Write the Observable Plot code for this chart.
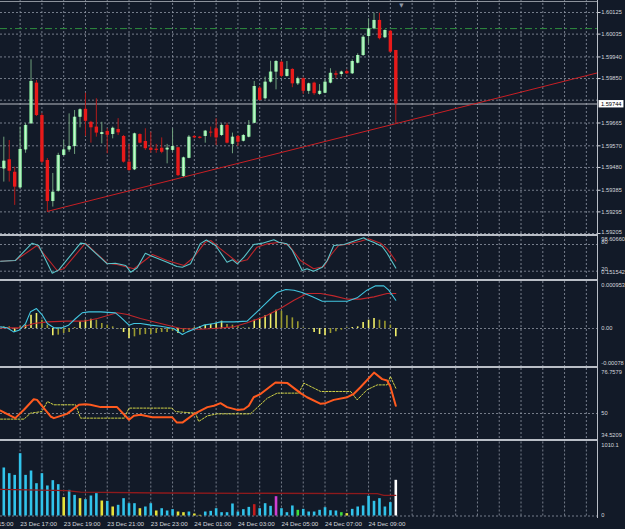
<!DOCTYPE html>
<html>
<head>
<meta charset="utf-8">
<script src="https://cdn.jsdelivr.net/npm/d3@7"></script>
<script src="https://cdn.jsdelivr.net/npm/@observablehq/plot@0.6"></script>
<style>
  html, body { margin:0; padding:0; background:#121a28; }
  #chart { position:relative; width:625px; height:529px; background:#121a28; overflow:hidden; }
  #chart svg { position:absolute; left:0; display:block; }
  .hl { position:absolute; left:0; width:597px; height:2px; background:#b9bec6; }
  .vl { position:absolute; top:0; left:597px; width:1px; height:518px; background:#b9bec6; }
  .tl { position:absolute; left:0; top:1px; width:597px; height:1px; background:#8d939c; }
</style>
</head>
<body>
<div id="chart"></div>
<script>
// ---------- DATA (M15 candles, 23 Dec 16:15 .. 24 Dec 10:15) ----------
const open = [1.59474,1.59512,1.59460,1.59395,1.59553,1.59662,1.59831,1.59696,1.59509,1.59338,
  1.59381,1.59530,1.59553,1.59567,1.59689,1.59722,1.59668,1.59648,1.59617,1.59630,
  1.59617,1.59638,1.59609,1.59502,1.59470,1.59617,1.59588,1.59560,1.59556,1.59560,
  1.59553,1.59551,1.59562,1.59442,1.59518,1.59609,1.59606,1.59609,1.59627,1.59641,
  1.59613,1.59655,1.59576,1.59609,1.59589,1.59606,1.59664,1.59810,1.59766,1.59835,
  1.59877,1.59918,1.59859,1.59888,1.59828,1.59849,1.59797,1.59831,1.59784,1.59789,
  1.59831,1.59870,1.59867,1.59879,1.59870,1.59914,1.59946,1.60025,1.60057,1.60092,
  1.60020,1.60047,1.59967];
const high = [1.59606,1.59592,1.59481,1.59648,1.59663,1.59928,1.59842,1.59705,1.59517,1.59455,
  1.59539,1.59592,1.59703,1.59717,1.59724,1.59789,1.59672,1.59766,1.59668,1.59641,
  1.59648,1.59683,1.59613,1.59576,1.59623,1.59620,1.59641,1.59627,1.59576,1.59603,
  1.59576,1.59641,1.59564,1.59523,1.59613,1.59613,1.59609,1.59634,1.59648,1.59683,
  1.59662,1.59664,1.59623,1.59613,1.59617,1.59675,1.59838,1.59817,1.59856,1.59922,
  1.59925,1.59922,1.59921,1.59891,1.59856,1.59853,1.59831,1.59835,1.59825,1.59845,
  1.59891,1.59881,1.59881,1.59886,1.59928,1.59953,1.60029,1.60099,1.60122,1.60122,
  1.60053,1.60050,1.59967];
const low = [1.59419,1.59419,1.59322,1.59391,1.59539,1.59659,1.59692,1.59496,1.59294,1.59315,
  1.59377,1.59526,1.59543,1.59534,1.59645,1.59609,1.59581,1.59606,1.59578,1.59537,
  1.59599,1.59613,1.59498,1.59464,1.59467,1.59578,1.59551,1.59539,1.59539,1.59537,
  1.59495,1.59543,1.59442,1.59439,1.59516,1.59599,1.59598,1.59581,1.59606,1.59571,
  1.59609,1.59578,1.59537,1.59567,1.59586,1.59603,1.59662,1.59756,1.59762,1.59831,
  1.59803,1.59853,1.59856,1.59812,1.59821,1.59784,1.59784,1.59780,1.59780,1.59787,
  1.59828,1.59849,1.59856,1.59867,1.59867,1.59911,1.59942,1.59995,1.60053,1.60011,
  1.60016,1.59956,1.59662];
const close = [1.59506,1.59464,1.59398,1.59555,1.59655,1.59838,1.59696,1.59502,1.59338,1.59377,
  1.59530,1.59553,1.59567,1.59689,1.59720,1.59672,1.59645,1.59623,1.59625,1.59614,
  1.59643,1.59624,1.59502,1.59467,1.59620,1.59581,1.59558,1.59551,1.59551,1.59543,
  1.59560,1.59567,1.59446,1.59520,1.59606,1.59603,1.59601,1.59631,1.59623,1.59603,
  1.59655,1.59581,1.59606,1.59585,1.59613,1.59655,1.59817,1.59759,1.59835,1.59877,
  1.59921,1.59859,1.59888,1.59828,1.59849,1.59797,1.59828,1.59787,1.59797,1.59835,
  1.59872,1.59864,1.59877,1.59870,1.59921,1.59946,1.60022,1.60057,1.60092,1.60016,
  1.60050,1.59960,1.59744];

const priceTicks = [1.60125,1.60035,1.59940,1.59850,1.59665,1.59570,1.59480,1.59385,1.59295,1.59205];
const priceHiddenGrid = [1.59760];
const alertLevel = 1.60058;
const trendBar = [8, 109.1];
const trendPrice = [1.59297, 1.59874];

// Stochastic
const stochKBar = [-0.6,2.1,5.2,6.4,8.9,10.1,14.1,15,19,20.5,22.4,23.3,24.5,26,26.9,30,31.8,32.8,34.3,36.1,
  37.2,38.9,41,42,42.9,44.1,45.9,47.5,49.6,50.5,52,53,54.8,55.7,56.9,58.5,59.4,60.6,62.5,63.7,66.1,66.7,67.9,69.5,70.4,72];
const stochKVal = [42.5,44,82.9,77.8,15.5,23,83,81.5,36.6,38,32.8,17.8,27.6,60.4,55.3,40.2,30.6,29,36.6,82,
  90,77.8,40.2,45.6,36.6,51.5,80,83,90.5,85.2,81.5,66.5,21.6,25.4,20,29,44,77.8,80,85.2,95,90.5,85.2,75.5,60.4,27];
const stochDBar = [-0.6,2.1,6.1,9.8,11,15,19,20.8,23.9,27.3,30,33.1,34.9,37,38,39.8,42.9,44.7,46.5,48.4,
  50.8,52.4,54.5,56.9,58.8,60,61.5,63.4,65.5,67,69.2,70.4,72];
const stochDVal = [42.5,44,77.8,21.6,25.4,83,38,35,25.4,57.5,44,32.8,51.5,85.2,89,70.3,40.2,45.6,74,81.5,
  85.2,77.8,44,25.4,30.6,55.3,77.8,81.5,87.4,92.8,83,70.3,43];
const stochLevels = [80, 20];
const stochMax = 98.6066, stochMin = 0.151542;

// MACD (values in units of 1e-5)
const macdHist = [3.4,3.4,-6.8,3.4,6.8,27,30.4,16.9,6.8,-14.9,-13.5,-10.1,-8.1,2,13.5,16.9,18.9,16.9,10.1,6.8,
  3.4,-1,-8.1,-20.3,-16.9,-13.5,-12.2,-12.2,-10.1,-8.1,-8.1,-5.4,-10.1,-8.1,-3.4,2,3.4,6.8,8.1,10.1,
  14.9,8.1,6.8,3.4,1.4,1.4,16.9,20.3,25.7,30.4,37.2,35.1,25.7,21.6,13.5,1.4,-1,-8.1,-12.2,-14.9,
  -10.1,-6.8,-3.4,1.4,2,3.4,12.2,16.9,20.3,16.9,14.9,6.8,-16.9];
const macdBar = [-0.6,0.6,1.8,2.8,4,4.9,6,7,8,9.2,10.7,11.9,13.2,14.4,15.6,17.8,20.5,21.4,23,23.9,
  25.1,27,28.8,31.2,32.8,33.7,34.9,36.7,38.6,39.8,42.3,44.7,46.5,48.4,50.2,51.8,53.3,54.8,56.7,58.5,
  60.6,63.1,64.9,66.7,68.3,69.8,70.7,72];
const macdVal = [3.4,1.4,-6.8,-3.4,10.1,33.8,40.5,28.4,10.1,1.4,1.4,6.8,20.3,31.8,33.8,33.8,31.8,23.7,6.8,10.1,
  10.1,6.8,4.7,0,-12.2,-6.8,-1.4,6.8,10.1,13.5,13.5,14.9,33.8,54.1,73,79.1,77.7,73,64.2,55.4,
  55.4,55.4,62.2,77.7,86.5,86.5,77.7,57.4];
const signalBar = [-0.6,3.1,5.5,8,11.6,14.7,17.2,20.8,22.7,25.1,28.8,32.5,36.1,38.6,42.3,44.7,47.8,50.8,53.3,55.7,
  58.2,60.6,63.1,65.5,68,70.4,72];
const signalVal = [1.4,1.4,10.1,13.5,14.9,14.9,20.3,31.8,28.4,20.3,10.1,0,-1.4,0,3.4,11.5,23.7,40.5,57.4,71,
  71,66.2,59.5,59.5,64.2,71,71];
const macdMax = 95.3, macdMin = -78;
const macdAxisText = ["0.000953", "0.00", "-0.00078"];

// RSI-type oscillator
const rsiBar = [-0.6,2.1,3.7,5.5,6.1,8.6,9.2,11.6,13.8,15,15.9,17.8,20.8,23,23.9,25.1,27.3,30.9,31.8,32.8,
  34.9,37.4,38.6,39.8,41,42.9,44.1,45,45.9,47.2,49.9,52.1,54.5,55.7,58.2,59.1,60.6,63.1,64.3,65.5,68,69.5,70.4,71,72];
const rsiVal = [51.8,47.2,52.3,58.7,58.3,48.2,47.2,49.8,55.3,55.7,55.3,53.9,53.9,46.2,48.6,49.2,47.8,47.8,44.5,44.5,
  49.6,53.9,54.7,56.3,53.9,52.2,52.6,54.7,59.9,62,68.9,68.5,62.4,59.9,55.9,56.3,58.3,59.9,62,66,74.9,70.9,70.1,66.4,54.7];
const rsi2Bar = [-0.6,3.7,4.9,7,8,9.2,13.2,14.1,22.1,23,30.9,31.5,35.2,35.8,37.4,39.2,45.3,48.4,50.2,54.2,
  55.1,58.2,63.7,64.9,66.7,68.6,70.4,71,72];
const rsi2Val = [46.6,46.6,50.2,51.2,57.3,55.3,55.3,47.2,47.2,53.3,53.3,51.2,50.2,45.2,48.6,49.8,49.8,59.3,62.4,62.4,
  68.5,63.4,63.4,58.3,64.4,67.4,67.4,72.5,65.4];
const rsiMax = 76.7579, rsiMin = 34.5209, rsiMid = 50;

// Volume
const volume = [651,574,551,845,551,610,438,574,407,479,425,249,348,280,235,221,271,303,203,199,
  122,145,235,167,167,99,122,167,68,99,68,86,54,45,54,27,9,54,63,99,
  45,45,163,54,86,117,154,99,167,131,262,99,45,136,77,90,54,54,77,113,
  72,68,45,32,90,122,136,267,199,235,122,181,484];
const volumeKind = ["c","c","c","c","c","c","c","c","c","c","c","y","c","c","y","c","c","c","y","c",
  "y","c","c","c","c","y","c","c","y","c","c","c","y","y","c","y","y","c","c","c",
  "c","c","c","c","c","c","r","c","c","c","m","c","c","c","g","c","c","c","c","c",
  "c","c","g","y","c","c","c","c","c","c","c","c","w"];
const volMaBar = [-0.6,11.6,14.1,28.8,68.6,69.8,72];
const volMaVal = [362,343,325,312,303,280,280];
const volMax = 1010.1;

// Time axis
const timeLabelBar = [-5,3,11,19,27,35,43,51,59,67];
const timeLabelText = ["23 Dec 15:00","23 Dec 17:00","23 Dec 19:00","23 Dec 21:00","23 Dec 23:00",
  "24 Dec 01:00","24 Dec 03:00","24 Dec 05:00","24 Dec 07:00","24 Dec 09:00"];

// ---------- STYLE ----------
const FONT = "'Liberation Sans', Arial, sans-serif";
const TEXT = "#d4d7dc";
const GRID = "#8f97a4";
const AX_FS = 5.7;
const BULL = "#7fe096", BULL_IN = "#c8f7cf", BULL_WICK = "#6f9f7c";
const BEAR = "#e81a1a", BEAR_WICK = "#b21b1b";
const VOLCOL = {c:"#31c3ea", y:"#e6e23a", r:"#c21d1d", m:"#cf3fd2", g:"#3ede3e", w:"#ffffff"};

const candles = open.map((o, i) => ({i, o, h: high[i], l: low[i], c: close[i], up: close[i] >= o}));
const gridBars = d3.range(3, 108, 4);
const pts = (xs, ys) => xs.map((x, k) => ({x, y: ys[k]}));

function pane(height, y, marks) {
  return Plot.plot({
    width: 625, height, marginLeft: 0, marginRight: 28, marginTop: 0, marginBottom: 0,
    x: {domain: [0, 72], range: [3.3, 395.3], axis: null},
    y: {...y, axis: null},
    style: {background: "transparent", color: TEXT, fontFamily: FONT, fontSize: "6.2px", overflow: "hidden"},
    marks
  });
}
const vgrid = (o = {}) => Plot.ruleX(gridBars, {x: d => d, stroke: GRID, strokeWidth: 0.8, strokeDasharray: "2,2", ...o});
const hdash = (vals) => Plot.ruleY(vals, {y: d => d, stroke: GRID, strokeWidth: 0.8, strokeDasharray: "2,2"});
const label = (v, t, dy) => Plot.text([v], {y: d => d, frameAnchor: "right", textAnchor: "start", dx: 3.8, dy, text: () => t, fill: TEXT, fontSize: AX_FS});

const chart = document.getElementById("chart");
const BID = close[close.length - 1];
const BID_TEXT = BID.toFixed(5);

// ---------- PRICE PANE ----------
const price = pane(240, {domain: [1.59205, 1.60125], range: [233, 12]}, [
  vgrid({y1: 1.59205, y2: 1.6018}),
  hdash(priceTicks.concat(priceHiddenGrid)),
  Plot.ruleY([alertLevel], {y: d => d, stroke: "#2f8f3f", strokeWidth: 1, strokeDasharray: "7,3,2,3"}),
  Plot.ruleY([BID], {y: d => d, stroke: "#b5bac2", strokeWidth: 1.2}),
  Plot.line(pts(trendBar, trendPrice), {x: "x", y: "y", stroke: "#c81f24", strokeWidth: 1}),
  Plot.ruleX(candles, {x: "i", y1: "l", y2: "h", stroke: d => d.up ? BULL_WICK : BEAR_WICK, strokeWidth: 1}),
  Plot.ruleX(candles, {x: "i", y1: "o", y2: "c", stroke: d => d.up ? BULL : BEAR, strokeWidth: 3.4}),
  Plot.ruleX(candles.filter(d => d.up), {x: "i", y1: "o", y2: "c", stroke: BULL_IN, strokeWidth: 1.2}),
  Plot.axisY(priceTicks, {anchor: "right", tickSize: 2.5, tickPadding: 0, tickFormat: () => ""}),
  ...priceTicks.map((p, k) => label(p, p.toFixed(5), k === priceTicks.length - 1 ? -1.8 : 0)),
  Plot.text([BID], {y: d => d, frameAnchor: "right", textAnchor: "start", dx: 3.4, text: () => BID_TEXT, fill: "#000", fontSize: AX_FS}),
  Plot.text([73], {x: d => d, frameAnchor: "top", dy: 2.5, text: () => "\u25BC", fontSize: 5.5, fill: "#8e96a3", fontFamily: "DejaVu Sans"})
]);
price.style.top = "0px";
chart.append(price);
{
  const t = [...price.querySelectorAll("text")].find(e => e.textContent.trim() === BID_TEXT);
  if (t) {
    const bb = t.getBBox();
    const r = document.createElementNS("http://www.w3.org/2000/svg", "rect");
    r.setAttribute("x", bb.x - 2.3); r.setAttribute("y", bb.y - 0.8);
    r.setAttribute("width", bb.width + 4.3); r.setAttribute("height", bb.height + 1.4);
    r.setAttribute("fill", "#ffffff");
    if (t.getAttribute("transform")) r.setAttribute("transform", t.getAttribute("transform"));
    t.parentNode.insertBefore(r, t);
  }
}

// ---------- STOCHASTIC PANE ----------
const stoch = pane(45, {domain: [20, 80], range: [35.7, 9]}, [
  vgrid(),
  hdash(stochLevels),
  Plot.line(pts(stochDBar, stochDVal), {x: "x", y: "y", stroke: "#c0262b", strokeWidth: 1.1}),
  Plot.line(pts(stochKBar, stochKVal), {x: "x", y: "y", stroke: "#5cc4c9", strokeWidth: 1.1}),
  label(stochMax, stochMax.toFixed(5), 2.6),
  label(stochLevels[0], String(stochLevels[0]), -2.3),
  label(stochLevels[1], String(stochLevels[1]), -2.4),
  label(stochMin, String(stochMin), -7.8)
]);
stoch.style.top = "235px";
chart.append(stoch);

// ---------- MACD PANE ----------
const histColor = macdHist.map((v, i) => (i > 0 && Math.abs(v) > Math.abs(macdHist[i - 1])) ? "#f2f06a" : "#9a9a30");
const macd = pane(86, {domain: [macdMin, macdMax], range: [85.5, 0]}, [
  vgrid(),
  hdash([0]),
  Plot.ruleX(macdHist, {x: (d, i) => i, y1: 0, y2: d => d, stroke: (d, i) => histColor[i], strokeWidth: 1.6}),
  Plot.line(pts(signalBar, signalVal), {x: "x", y: "y", stroke: "#c0262b", strokeWidth: 1.1}),
  Plot.line(pts(macdBar, macdVal), {x: "x", y: "y", stroke: "#42c6e0", strokeWidth: 1.1}),
  label(macdMax, macdAxisText[0], 3.5),
  label(0, macdAxisText[1], 0),
  label(macdMin, macdAxisText[2], -3.8)
]);
macd.style.top = "281px";
chart.append(macd);

// ---------- RSI PANE ----------
const rsi = pane(72, {domain: [rsiMin, rsiMax], range: [70.5, 1]}, [
  vgrid(),
  hdash([rsiMid]),
  Plot.line(pts(rsi2Bar, rsi2Val), {x: "x", y: "y", stroke: "#e6e84a", strokeWidth: 0.9, strokeDasharray: "2,1.5"}),
  Plot.line(pts(rsiBar, rsiVal), {x: "x", y: "y", stroke: "#ff5a1f", strokeWidth: 2}),
  label(rsiMax, String(rsiMax), 3),
  label(rsiMid, String(rsiMid), 0),
  label(rsiMin, String(rsiMin), -3.5)
]);
rsi.style.top = "368px";
chart.append(rsi);

// ---------- VOLUME PANE + TIME AXIS ----------
const vol = pane(88, {domain: [0, volMax], range: [74.5, 0]}, [
  vgrid({y1: 0, y2: volMax}),
  hdash([0]),
  Plot.ruleX(volume, {x: (d, i) => i, y1: 0, y2: d => d, stroke: (d, i) => VOLCOL[volumeKind[i]], strokeWidth: 2.6}),
  Plot.line(pts(volMaBar, volMaVal), {x: "x", y: "y", stroke: "#8e1a1c", strokeWidth: 1.3}),
  label(volMax, String(volMax), 4),
  label(0, "0", -1),
  Plot.text(timeLabelBar, {x: d => d, frameAnchor: "bottom", dy: -4, textAnchor: "start", text: (d, i) => timeLabelText[i], fill: TEXT})
]);
vol.style.top = "441px";
chart.append(vol);

// ---------- FRAME / SEPARATORS ----------
for (const top of [234, 279, 366, 439]) {
  const s = document.createElement("div");
  s.className = "hl"; s.style.top = top + "px";
  chart.append(s);
}
const v = document.createElement("div"); v.className = "vl"; chart.append(v);
const tl = document.createElement("div"); tl.className = "tl"; chart.append(tl);
</script>
</body>
</html>
